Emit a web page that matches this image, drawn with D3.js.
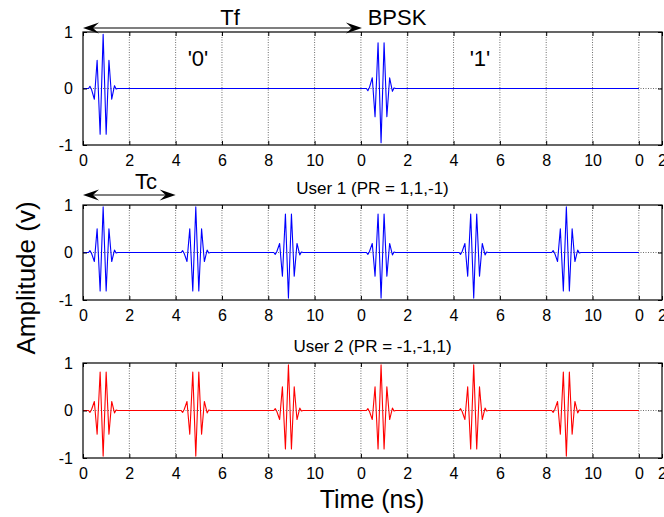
<!DOCTYPE html>
<html><head><meta charset="utf-8">
<script src="https://cdn.jsdelivr.net/npm/d3@7"></script>
<style>
body{margin:0;background:#fff;}
svg{display:block;font-family:"Liberation Sans",Arial,sans-serif;}
</style></head>
<body><svg id="c" width="664" height="517"></svg>
<script>
// ---- data ----
const xTickValues = [0,2,4,6,8,10,12,14,16,18,20,22,24,25];
const xTickLabels = ["0","2","4","6","8","10","0","2","4","6","8","10","0","2"];
const yTickValues = [-1,0,1];
const yTickLabels = ["-1","0","1"];
// pulse template (time within chip slot, amplitude)
const pulseT = [0, 0.24, 0.30, 0.37, 0.49, 0.61, 0.74, 0.87, 1.00, 1.12, 1.24, 1.36, 1.43, 1.50, 2];
const pulseV = [0, 0, 0.04, -0.02, -0.19, 0.5, -0.81, 0.96, -0.81, 0.5, -0.19, 0.05, -0.01, 0, 0];
// pulse start times and polarities
const bpskStarts  = [0, 12];
const bpskSigns   = [1, -1];
const user1Starts = [0, 4, 8, 12, 16, 20];
const user1Signs  = [1, 1, -1, -1, -1, 1];
const user2Starts = [0, 4, 8, 12, 16, 20];
const user2Signs  = [-1, -1, 1, 1, 1, -1];
const signalEnd = 24;
const titles = ["", "User 1 (PR = 1,1,-1)", "User 2 (PR = -1,-1,1)"];

// ---- layout ----
const svg = d3.select("#c");
const x = d3.scaleLinear().domain([0,25]).range([83,662]);
const panels = [
  {top:32, bottom:145, starts:bpskStarts, signs:bpskSigns, color:"#0000ff"},
  {top:205, bottom:300, starts:user1Starts, signs:user1Signs, color:"#0000ff"},
  {top:363, bottom:458, starts:user2Starts, signs:user2Signs, color:"#ff0000"}
];

function buildSeries(starts, signs){
  const pts = [];
  starts.forEach((s,i)=>{
    pulseT.forEach((t,j)=>{ pts.push([s+t, signs[i]*pulseV[j]]); });
  });
  pts.push([signalEnd, 0]);
  return pts;
}

panels.forEach((p,pi)=>{
  const y = d3.scaleLinear().domain([-1,1]).range([p.bottom,p.top]);
  const g = svg.append("g");
  // grid
  const gridX = xTickValues.filter(v=>v>0 && v<25);
  g.selectAll(".gx").data(gridX).join("line")
    .attr("x1",d=>x(d)).attr("x2",d=>x(d)).attr("y1",p.top).attr("y2",p.bottom)
    .attr("stroke","#6e6e6e").attr("stroke-width",1).attr("stroke-dasharray","1,1.5");
  g.append("line").attr("x1",x(0)).attr("x2",x(25)).attr("y1",y(0)).attr("y2",y(0))
    .attr("stroke","#6e6e6e").attr("stroke-width",1).attr("stroke-dasharray","1,1.5");
  // signal
  const line = d3.line().x(d=>x(d[0])).y(d=>y(d[1]));
  g.append("path").datum(buildSeries(p.starts,p.signs)).attr("d",line)
    .attr("fill","none").attr("stroke",p.color).attr("stroke-width",1.1).attr("stroke-linejoin","round");
  // frame
  g.append("rect").attr("x",x(0)).attr("y",p.top).attr("width",x(25)-x(0)).attr("height",p.bottom-p.top)
    .attr("fill","none").attr("stroke","#000").attr("stroke-width",1.2);
  // inward ticks
  const tl = 4;
  const xAxB = d3.axisBottom(x).tickValues(xTickValues).tickSizeInner(-tl).tickSizeOuter(0)
    .tickFormat((d,i)=>xTickLabels[i]).tickPadding(10);
  const ax = g.append("g").attr("transform",`translate(0,${p.bottom})`).call(xAxB);
  ax.select(".domain").remove();
  ax.selectAll("text").attr("font-size",16).attr("fill","#000").attr("font-family","'Liberation Sans',Arial,sans-serif");
  ax.selectAll("line").attr("stroke","#000");
  const axT = g.append("g").attr("transform",`translate(0,${p.top})`)
    .call(d3.axisTop(x).tickValues(xTickValues).tickSizeInner(-tl).tickSizeOuter(0).tickFormat(""));
  axT.select(".domain").remove(); axT.selectAll("line").attr("stroke","#000");
  const ayL = g.append("g").attr("transform",`translate(${x(0)},0)`)
    .call(d3.axisLeft(y).tickValues(yTickValues).tickSizeInner(-tl).tickSizeOuter(0)
      .tickFormat((d,i)=>yTickLabels[i]).tickPadding(10));
  ayL.select(".domain").remove(); ayL.selectAll("line").attr("stroke","#000");
  ayL.selectAll("text").attr("font-size",16).attr("fill","#000").attr("font-family","'Liberation Sans',Arial,sans-serif");
  const ayR = g.append("g").attr("transform",`translate(${x(25)},0)`)
    .call(d3.axisRight(y).tickValues(yTickValues).tickSizeInner(-tl).tickSizeOuter(0).tickFormat(""));
  ayR.select(".domain").remove(); ayR.selectAll("line").attr("stroke","#000");
  if(titles[pi]){
    svg.append("text").attr("x",(x(0)+x(25))/2).attr("y",p.top-11).attr("text-anchor","middle")
      .attr("font-size",17).text(titles[pi]);
  }
});

// ---- annotations ----
function dblArrow(x1,x2,yy){
  const L=16,W=5.5,N=10;
  svg.append("line").attr("x1",x1+4).attr("x2",x2-4).attr("y1",yy).attr("y2",yy).attr("stroke","#000").attr("stroke-width",1.2);
  svg.append("path").attr("d",`M${x1},${yy} L${x1+L},${yy-W} L${x1+N},${yy} L${x1+L},${yy+W} Z`).attr("fill","#000");
  svg.append("path").attr("d",`M${x2},${yy} L${x2-L},${yy-W} L${x2-N},${yy} L${x2-L},${yy+W} Z`).attr("fill","#000");
}
dblArrow(x(0), x(12)+1, 28);
dblArrow(x(0), x(4)+0, 195);
svg.append("text").attr("x",230).attr("y",25).attr("text-anchor","middle").attr("font-size",22).text("Tf");
svg.append("text").attr("x",397).attr("y",25).attr("text-anchor","middle").attr("font-size",22).text("BPSK");
svg.append("text").attr("x",198).attr("y",66).attr("text-anchor","middle").attr("font-size",22).text("'0'");
svg.append("text").attr("x",480).attr("y",66).attr("text-anchor","middle").attr("font-size",22).text("'1'");
svg.append("text").attr("x",146).attr("y",189).attr("text-anchor","middle").attr("font-size",22).text("Tc");

svg.append("text").attr("transform","translate(35,278) rotate(-90)").attr("text-anchor","middle")
  .attr("font-size",26).text("Amplitude (v)");
svg.append("text").attr("x",372).attr("y",508).attr("text-anchor","middle").attr("font-size",25).text("Time (ns)");
</script></body></html>
